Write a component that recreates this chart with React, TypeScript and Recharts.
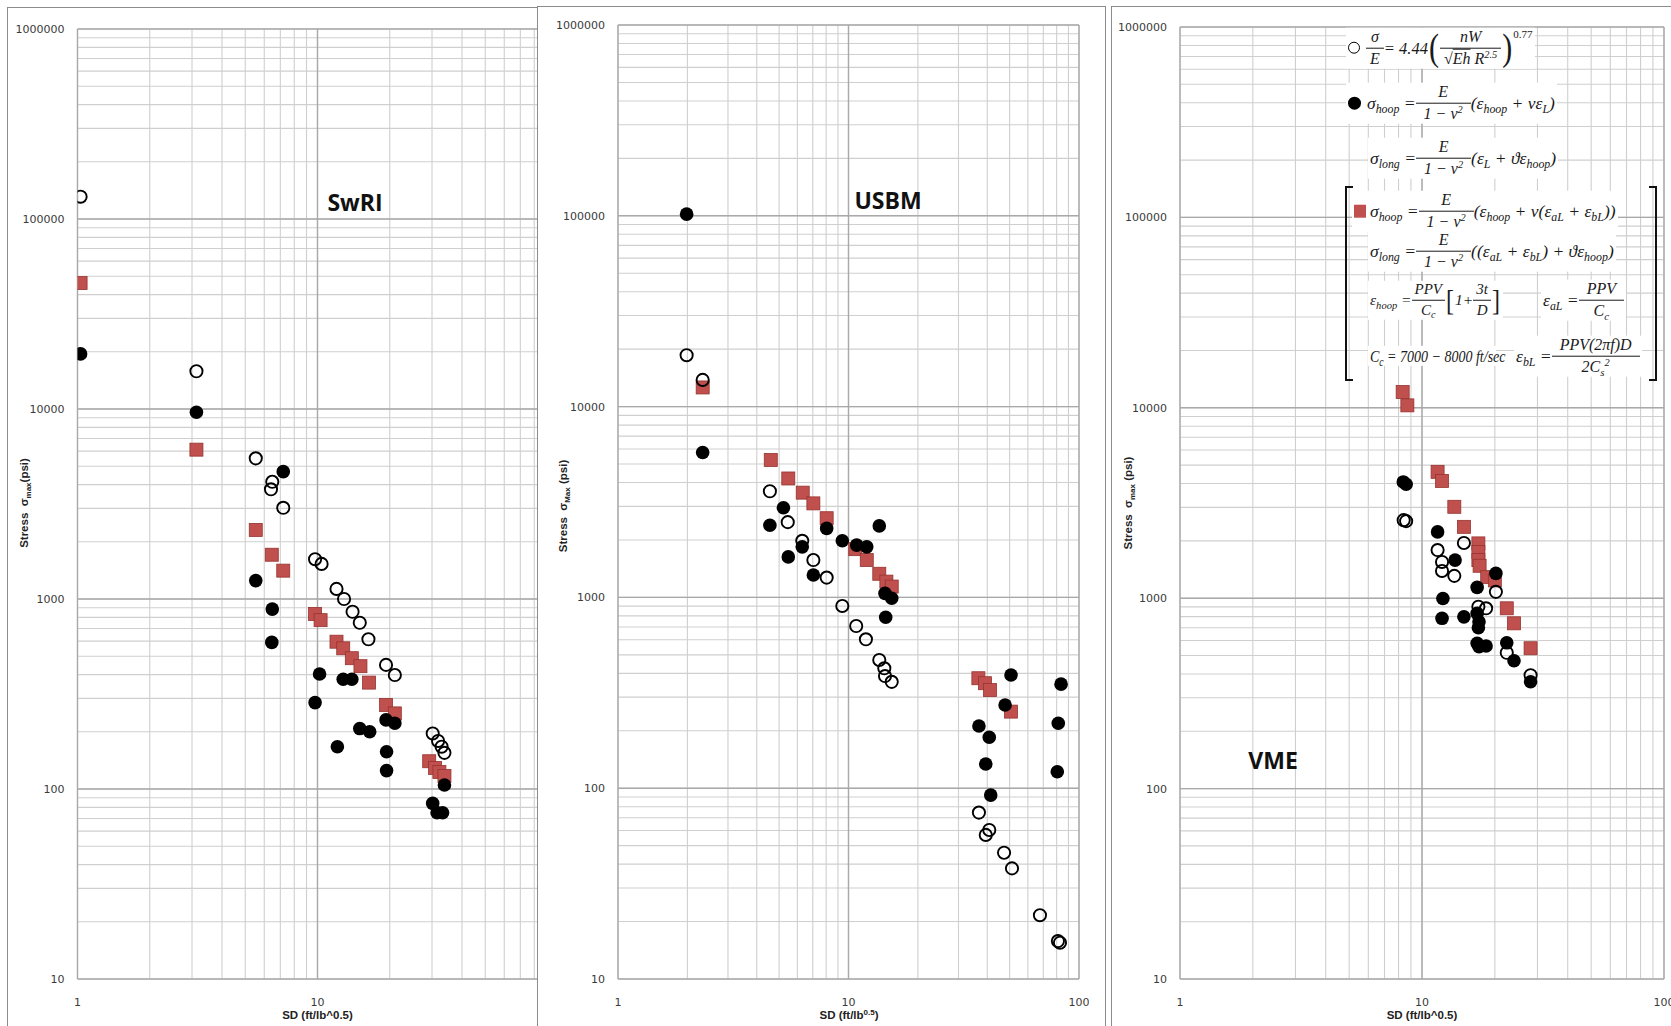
import React from 'react'
import { ScatterChart, Scatter, XAxis, YAxis, CartesianGrid, ReferenceLine } from 'recharts'

type Pt = [number, number]

// log axis ticks (minor + major), labels only on decades
const X_TICKS = [1, 2, 3, 4, 5, 6, 7, 8, 9, 10, 20, 30, 40, 50, 60, 70, 80, 90, 100]
const Y_TICKS = [
  10, 20, 30, 40, 50, 60, 70, 80, 90,
  100, 200, 300, 400, 500, 600, 700, 800, 900,
  1000, 2000, 3000, 4000, 5000, 6000, 7000, 8000, 9000,
  10000, 20000, 30000, 40000, 50000, 60000, 70000, 80000, 90000,
  100000, 200000, 300000, 400000, 500000, 600000, 700000, 800000, 900000,
  1000000
]
const X_DECADES = [1, 10, 100]
const Y_DECADES = [10, 100, 1000, 10000, 100000, 1000000]
// the SwRI panel is overlapped by the USBM one, so its "100" never shows
const SWRI_X_LABELS = [1, 10]

// SwRI panel  [SD, stress]
const swriOpen: Pt[] = [
  [1.03, 131000], [3.13, 15800], [5.53, 5500], [6.48, 4140], [6.4, 3780], [7.2, 3020],
  [9.77, 1620], [10.4, 1530], [12.0, 1130], [12.9, 1000], [14.0, 857], [15.0, 750],
  [16.3, 614], [19.3, 450], [21.0, 398], [30.2, 196], [31.8, 179], [32.9, 167], [33.8, 155]
]
const swriHoop: Pt[] = [
  [1.03, 19500], [3.13, 9620], [7.2, 4680], [5.53, 1250], [6.48, 885], [6.45, 591],
  [10.2, 403], [12.8, 378], [13.9, 378], [9.77, 285], [15.0, 208], [16.5, 200],
  [19.3, 231], [21.0, 222], [12.1, 167], [19.4, 157], [19.4, 125], [33.8, 105],
  [30.2, 84], [31.5, 75], [33.2, 75]
]
const swriCombined: Pt[] = [
  [1.03, 46000], [3.13, 6110], [5.53, 2310], [6.45, 1710], [7.2, 1410], [9.77, 834],
  [10.3, 774], [12.0, 596], [12.8, 550], [13.9, 488], [15.1, 443], [16.4, 363],
  [19.3, 277], [21.0, 250], [29.2, 140], [30.9, 129], [32.2, 123], [33.8, 117]
]

// USBM panel
const usbmOpen: Pt[] = [
  [1.985, 18600], [2.33, 13800], [4.56, 3600], [5.45, 2480], [6.3, 1980], [7.04, 1570],
  [8.04, 1270], [9.4, 902], [10.8, 708], [11.9, 603], [13.6, 470], [14.3, 425],
  [14.4, 387], [15.4, 361], [36.8, 74.5], [40.8, 60.4], [39.4, 56.9], [47.3, 45.9],
  [51.2, 38.0], [67.7, 21.6], [81, 15.8], [82.7, 15.5]
]
const usbmHoop: Pt[] = [
  [1.985, 102000], [2.33, 5750], [5.22, 2950], [4.56, 2390], [8.04, 2300], [13.6, 2370],
  [6.3, 1840], [9.4, 1980], [10.85, 1880], [12.0, 1840], [5.48, 1630], [7.04, 1310],
  [14.4, 1050], [15.4, 990], [14.5, 787], [50.7, 392], [47.8, 273], [83.6, 351],
  [81.3, 219], [80.5, 122], [36.8, 212], [40.8, 185], [39.4, 134], [41.4, 92]
]
const usbmCombined: Pt[] = [
  [2.33, 12600], [4.6, 5250], [5.48, 4200], [6.33, 3540], [7.04, 3110], [8.04, 2600],
  [10.7, 1790], [12.0, 1570], [13.6, 1330], [14.6, 1210], [15.4, 1140], [36.6, 377],
  [39.1, 355], [41.1, 327], [50.7, 252]
]

// VME panel
const vmeOpen: Pt[] = [
  [8.4, 2570], [8.6, 2540], [11.6, 1790], [12.1, 1550], [12.1, 1390], [13.6, 1310],
  [14.9, 1950], [20.2, 1080], [17.1, 902], [18.4, 885], [22.4, 517], [28.1, 394]
]
const vmeHoop: Pt[] = [
  [8.37, 4080], [8.6, 3970], [11.6, 2230], [13.7, 1585], [20.2, 1350], [16.9, 1140],
  [12.2, 997], [16.9, 832], [17.2, 752], [17.1, 700], [12.1, 784], [14.9, 798],
  [16.9, 580], [17.2, 556], [18.4, 561], [22.4, 583], [24.0, 469], [28.1, 364]
]
const vmeCombined: Pt[] = [
  [8.32, 12100], [8.7, 10300], [11.6, 4610], [12.1, 4130], [13.6, 3020], [14.9, 2370],
  [17.1, 1940], [17.1, 1750], [17.1, 1585], [17.3, 1480], [18.6, 1290], [20.0, 1240],
  [22.4, 885], [24.0, 738], [28.1, 546]
]

const RED = '#C0504D'
const FRAME = '1px solid #8c8c8c'
const SANS = '"Liberation Sans", Arial, sans-serif'
const MATH = '"Liberation Serif", "DejaVu Serif", serif'

const pts = (a: Pt[]) => a.map(([x, y]) => ({ x, y }))

const OpenDot = (p: any) => <circle cx={p.cx} cy={p.cy} r={6.1} fill="none" stroke="#000" strokeWidth={1.9} />
const FilledDot = (p: any) => <circle cx={p.cx} cy={p.cy} r={6.8} fill="#000" />
const RedSquare = (p: any) => (
  <rect x={p.cx - 6.5} y={p.cy - 6.5} width={13} height={13} fill={RED} stroke="#97332f" strokeWidth={0.8} />
)

const fmtY = (v: number) => (Y_DECADES.includes(v) ? String(v) : '')

interface PanelProps {
  left: number
  width: number
  axisWidth: number
  top: number
  right: number
  xLabels: number[]
  open: Pt[]
  hoop: Pt[]
  combined: Pt[]
}

function LogPanel({ left, width, axisWidth, top, right, xLabels, open, hoop, combined }: PanelProps) {
  const tick = { fontSize: 11, fill: '#3a3a3a', fontFamily: '"DejaVu Sans", sans-serif' }
  const fmtX = (v: number) => (xLabels.includes(v) ? String(v) : '')
  return (
    <div style={{ position: 'absolute', left, top: 0 }}>
      <ScatterChart width={width} height={1026} margin={{ top, right, bottom: 17, left: 0 }}>
        <CartesianGrid stroke="#cfcfcf" strokeWidth={1.1} />
        {Y_DECADES.map(v => <ReferenceLine key={'y' + v} y={v} stroke="#a9a9a9" strokeWidth={1.4} />)}
        {X_DECADES.map(v => <ReferenceLine key={'x' + v} x={v} stroke="#a9a9a9" strokeWidth={1.4} />)}
        <XAxis
          type="number"
          dataKey="x"
          scale="log"
          domain={[1, 100]}
          ticks={X_TICKS}
          interval={0}
          tickFormatter={fmtX}
          tickLine={false}
          axisLine={false}
          tickSize={0}
          tickMargin={19}
          height={30}
          tick={tick}
          allowDataOverflow
        />
        <YAxis
          type="number"
          dataKey="y"
          scale="log"
          domain={[10, 1000000]}
          ticks={Y_TICKS}
          interval={0}
          tickFormatter={fmtY}
          tickLine={false}
          axisLine={false}
          tickSize={0}
          tickMargin={13}
          width={axisWidth}
          tick={tick}
          allowDataOverflow
        />
        <Scatter data={pts(combined)} shape={RedSquare} isAnimationActive={false} />
        <Scatter data={pts(hoop)} shape={FilledDot} isAnimationActive={false} />
        <Scatter data={pts(open)} shape={OpenDot} isAnimationActive={false} />
      </ScatterChart>
    </div>
  )
}

const Sub = ({ children }: { children: React.ReactNode }) => (
  <span style={{ fontSize: '0.68em', position: 'relative', top: '0.35em' }}>{children}</span>
)
const Sup = ({ children }: { children: React.ReactNode }) => (
  <span style={{ fontSize: '0.65em', position: 'relative', top: '-0.55em' }}>{children}</span>
)

function Frac({ n, d, size = 16, gap = 4 }: { n: React.ReactNode; d: React.ReactNode; size?: number; gap?: number }) {
  return (
    <span style={{ display: 'inline-flex', flexDirection: 'column', alignItems: 'center', fontSize: size, margin: `0 ${gap}px` }}>
      <span style={{ padding: `0 ${gap}px 2px` }}>{n}</span>
      <span style={{ borderTop: '1px solid #1a1a1a', padding: `2px ${gap}px 0`, width: '100%', textAlign: 'center' }}>{d}</span>
    </span>
  )
}

const Paren = ({ c, size = 26 }: { c: string; size?: number }) => (
  <span style={{ fontStyle: 'normal', fontSize: size, lineHeight: 1, margin: '0 1px', display: 'inline-block', transform: 'scaleY(1.25)' }}>{c}</span>
)

function Row({ left, cy, size = 17.5, children }: { left: number; cy: number; size?: number; children: React.ReactNode }) {
  return (
    <div
      style={{
        position: 'absolute', left, top: cy, transform: 'translateY(-50%)', display: 'flex', alignItems: 'center',
        background: '#fff', fontFamily: MATH, fontStyle: 'italic', fontSize: size, lineHeight: 1.05,
        whiteSpace: 'nowrap', color: '#1a1a1a', padding: '1px 2px'
      }}
    >
      {children}
    </div>
  )
}

const markerBox = { display: 'inline-block', marginRight: 6, flex: 'none' as const }
const oneMinusV2 = <span>1 − v<Sup>2</Sup></span>

function Legend() {
  return (
    <>
      <Row left={1346} cy={48} size={16.5}>
        <span style={{ ...markerBox, width: 10, height: 10, border: '1.8px solid #000', borderRadius: '50%' }} />
        <Frac n="σ" d="E" gap={2} />
        <span>= 4.44</span>
        <Paren c="(" size={30} />
        <Frac n="nW" d={<span>√<span style={{ textDecoration: 'overline' }}>Eh</span> R<Sup>2.5</Sup></span>} gap={2} />
        <Paren c=")" size={30} />
        <span style={{ fontSize: 11, alignSelf: 'flex-start', fontStyle: 'normal' }}>0.77</span>
      </Row>
      <Row left={1346} cy={103}>
        <span style={{ ...markerBox, width: 13, height: 13, background: '#000', borderRadius: '50%' }} />
        <span>σ<Sub>hoop</Sub> =</span>
        <Frac n="E" d={oneMinusV2} />
        <span>(ε<Sub>hoop</Sub> + vε<Sub>L</Sub>)</span>
      </Row>
      <Row left={1368} cy={158}>
        <span>σ<Sub>long</Sub> =</span>
        <Frac n="E" d={oneMinusV2} />
        <span>(ε<Sub>L</Sub> + ϑε<Sub>hoop</Sub>)</span>
      </Row>
      <div style={{ position: 'absolute', left: 1345, top: 186, width: 6, height: 191, border: '2.5px solid #111', borderRight: 'none' }} />
      <div style={{ position: 'absolute', left: 1649, top: 186, width: 6, height: 191, border: '2.5px solid #111', borderLeft: 'none' }} />
      <Row left={1352} cy={211}>
        <span style={{ ...markerBox, width: 12, height: 13, background: RED, marginRight: 4 }} />
        <span>σ<Sub>hoop</Sub> =</span>
        <Frac n="E" d={oneMinusV2} />
        <span>(ε<Sub>hoop</Sub> + v(ε<Sub>aL</Sub> + ε<Sub>bL</Sub>))</span>
      </Row>
      <Row left={1368} cy={251}>
        <span>σ<Sub>long</Sub> =</span>
        <Frac n="E" d={oneMinusV2} />
        <span>((ε<Sub>aL</Sub> + ε<Sub>bL</Sub>) + ϑε<Sub>hoop</Sub>)</span>
      </Row>
      <Row left={1368} cy={300} size={15.5}>
        <span>ε<Sub>hoop</Sub> =</span>
        <Frac n="PPV" d={<span>C<Sub>c</Sub></span>} size={15} gap={1.5} />
        <Paren c="[" size={24} />
        <span>1+</span>
        <Frac n="3t" d="D" size={15} gap={1.5} />
        <Paren c="]" size={24} />
      </Row>
      <Row left={1541} cy={300}>
        <span>ε<Sub>aL</Sub> =</span>
        <Frac n="PPV" d={<span>C<Sub>c</Sub></span>} />
      </Row>
      <Row left={1368} cy={356}>
        <span style={{ display: 'inline-block', transform: 'scaleX(0.8)', transformOrigin: 'left center', width: 124 }}>
          C<Sub>c</Sub> = 7000 − 8000 ft/sec
        </span>
      </Row>
      <Row left={1514} cy={356}>
        <span>ε<Sub>bL</Sub> =</span>
        <Frac n="PPV(2πf)D" d={<span>2C<Sub>s</Sub><Sup>2</Sup></span>} />
      </Row>
    </>
  )
}

const yTitle = (cx: number, cy: number, sub: string, gap: string) => (
  <div
    style={{
      position: 'absolute', left: cx, top: cy, transform: 'translate(-50%, -50%) rotate(-90deg)',
      fontFamily: SANS, fontWeight: 700, fontSize: 11.5, whiteSpace: 'nowrap', color: '#222'
    }}
  >
    Stress&nbsp; σ<span style={{ fontSize: 8, position: 'relative', top: 3 }}>{sub}</span>{gap}(psi)
  </div>
)

const xTitle = (cx: number, content: React.ReactNode) => (
  <div
    style={{
      position: 'absolute', left: cx, top: 1015, transform: 'translate(-50%, -50%)',
      fontFamily: SANS, fontWeight: 700, fontSize: 11.5, whiteSpace: 'nowrap', color: '#222'
    }}
  >
    {content}
  </div>
)

const panelTitle = (cx: number, cy: number, text: string) => (
  <div
    style={{
      position: 'absolute', left: cx, top: cy, transform: 'translate(-50%, -50%)',
      fontFamily: '"Open Sans", sans-serif', fontWeight: 700, fontSize: 23, color: '#111', whiteSpace: 'nowrap'
    }}
  >
    {text}
  </div>
)

export default function App() {
  return (
    <div style={{ position: 'absolute', left: 0, top: 0, width: 1671, height: 1026, overflow: 'hidden', background: '#fff' }}>
      {/* SwRI */}
      <div style={{ position: 'absolute', left: 7, top: 7, width: 560, height: 1040, border: FRAME }} />
      <LogPanel left={0} width={565} axisWidth={77.5} top={29} right={7.5} xLabels={SWRI_X_LABELS} open={swriOpen} hoop={swriHoop} combined={swriCombined} />

      {/* USBM */}
      <div style={{ position: 'absolute', left: 537, top: 6, width: 567, height: 1040, border: FRAME, background: '#fff' }} />
      <LogPanel left={540} width={549} axisWidth={78} top={25} right={10} xLabels={X_DECADES} open={usbmOpen} hoop={usbmHoop} combined={usbmCombined} />

      {/* VME */}
      <div style={{ position: 'absolute', left: 1111, top: 6, width: 600, height: 1040, border: FRAME, background: '#fff' }} />
      <LogPanel left={1114} width={560} axisWidth={66} top={27} right={10} xLabels={X_DECADES} open={vmeOpen} hoop={vmeHoop} combined={vmeCombined} />

      {yTitle(23.5, 503, 'max', '')}
      {yTitle(562.5, 506, 'Max', ' ')}
      {yTitle(1127.5, 503, 'max', ' ')}

      {xTitle(317.5, 'SD (ft/lb^0.5)')}
      {xTitle(849, <span>SD (ft/lb<span style={{ fontSize: 8, position: 'relative', top: -4 }}>0.5</span>)</span>)}
      {xTitle(1422, 'SD (ft/lb^0.5)')}

      {panelTitle(355, 202, 'SwRI')}
      {panelTitle(888, 200, 'USBM')}
      {panelTitle(1273, 760, 'VME')}

      <Legend />
    </div>
  )
}
